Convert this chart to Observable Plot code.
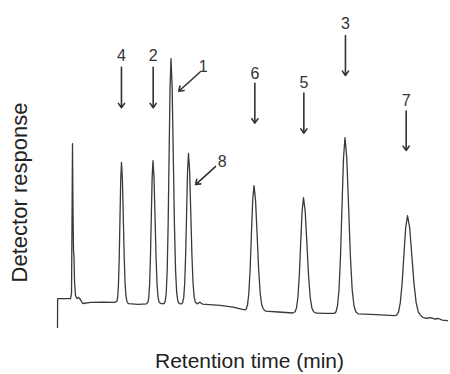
<!DOCTYPE html>
<html>
<head>
<meta charset="utf-8">
<script src="https://cdn.jsdelivr.net/npm/d3@7"></script>
<script src="https://cdn.jsdelivr.net/npm/@observablehq/plot@0.6"></script>
<style>
  html, body { margin: 0; padding: 0; background: #fff; }
  #chart { width: 450px; height: 374px; }
</style>
</head>
<body>
<div id="chart"></div>
<script>
// Chromatogram trace: retention time (min) and detector response (arbitrary units)
const traceTime = [
  0, 0.01, 1.0, 1.08, 1.154, 1.19, 1.23, 1.27, 1.31, 1.385, 1.5, 1.62, 1.75, 1.94, 2.55, 3.5, 4.4,
  4.577, 4.635, 4.692, 4.750, 4.808, 4.865, 4.923, 4.992, 5.062, 5.131, 5.200, 5.269, 5.338,
  5.45, 6.2, 6.85,
  6.954, 7.019, 7.085, 7.150, 7.215, 7.281, 7.346, 7.424, 7.503, 7.581, 7.660, 7.738, 7.817,
  7.95, 8.2,
  8.292, 8.365, 8.438, 8.512, 8.585, 8.658, 8.731, 8.819, 8.906, 8.994, 9.082, 9.169, 9.257,
  9.37, 9.55,
  9.638, 9.711, 9.784, 9.858, 9.931, 10.004, 10.077, 10.165, 10.252, 10.340, 10.428, 10.515, 10.603,
  10.75, 10.95, 11.15, 12.5, 13.5, 14.4,
  14.515, 14.615, 14.715, 14.815, 14.915, 15.015, 15.115, 15.235, 15.355, 15.475, 15.595, 15.715, 15.835,
  16.0, 17.0, 18.1,
  18.277, 18.385, 18.492, 18.600, 18.708, 18.815, 18.923, 19.052, 19.182, 19.311, 19.440, 19.569, 19.698,
  19.9, 20.6, 21.3,
  21.423, 21.538, 21.654, 21.769, 21.885, 22.000, 22.115, 22.254, 22.392, 22.531, 22.669, 22.808, 22.946,
  23.15, 24.5, 25.9,
  26.092, 26.231, 26.369, 26.508, 26.646, 26.785, 26.923, 27.089, 27.255, 27.422, 27.588, 27.754, 27.920,
  28.1, 28.4, 28.7, 29.0, 29.3, 29.6, 30.0
];
const traceResponse = [
  -10.2, 1.8, 1.8, 4, 66.4, 40, 22, 19, 9, 3.1, 1.8, 2.25, 1.5, -0.25, 0.2, 0.3, 0.2,
  0.7, 2.7, 8.0, 19.1, 35.6, 51.6, 58.5, 51.6, 35.6, 19.1, 8.0, 2.7, 0.7,
  -0.3, -0.6, -0.4,
  0.3, 2.2, 7.7, 19.0, 35.8, 52.3, 59.3, 52.3, 35.8, 19.0, 7.7, 2.2, 0.3,
  -0.3, -0.3,
  0.8, 4.2, 13.5, 32.9, 61.7, 89.8, 101.8, 89.8, 61.7, 32.9, 13.5, 4.2, 0.8,
  -0.3, -0.4,
  0.3, 2.4, 8.1, 20.0, 37.6, 54.9, 62.25, 54.9, 37.6, 20.0, 8.1, 2.4, 0.3,
  -0.4, 0.3, -0.5, -1.0, -1.8, -2.9,
  -2.6, -0.9, 3.8, 13.7, 28.4, 42.8, 48.9, 42.8, 28.4, 13.7, 3.8, -0.9, -2.6,
  -3.4, -3.8, -4.2,
  -3.7, -2.1, 2.25, 11.4, 25.0, 38.2, 43.9, 38.2, 25.0, 11.4, 2.25, -2.1, -3.7,
  -4.3, -4.4, -4.4,
  -3.7, -1.3, 5.4, 19.4, 40.1, 60.2, 68.9, 60.2, 40.1, 19.4, 5.4, -1.3, -3.7,
  -4.6, -4.9, -5.3,
  -5.1, -3.8, 0.1, 8.05, 19.9, 31.4, 36.4, 31.4, 19.9, 8.05, 0.1, -3.8, -5.1,
  -6.0, -6.4, -6.1, -6.7, -6.5, -7.2, -7.4
];

// Peak annotations (numbers with arrows)
const peakLabels    = ["4", "2", "1", "8", "6", "5", "3", "7"];
const labelTime     = [4.92, 7.36, 11.21, 12.67, 15.18, 18.95, 22.15, 26.82];
const labelResponse = [103.1, 103.1, 98.2, 58.6, 95.5, 91.5, 116.3, 84.3];
const arrowFromTime     = [4.92, 7.36, 10.95, 12.15, 15.18, 18.95, 22.15, 26.82];
const arrowFromResponse = [98.2, 98.2, 96.1, 56.8, 91.5, 87.4, 111.4, 79.9];
const arrowToTime       = [4.92, 7.36, 9.33, 10.62, 15.18, 18.95, 22.15, 26.82];
const arrowToResponse   = [81.3, 81.3, 88.2, 49.3, 74.9, 70.7, 94.75, 63.5];

const xLabel = "Retention time (min)";
const yLabel = "Detector response";

const trace = traceTime.map((t, i) => ({t, r: traceResponse[i]}));
const notes = peakLabels.map((label, i) => ({
  label,
  lt: labelTime[i], lr: labelResponse[i],
  x1: arrowFromTime[i], y1: arrowFromResponse[i],
  x2: arrowToTime[i], y2: arrowToResponse[i]
}));

const font = "Liberation Sans, Arial, Helvetica, sans-serif";
const ink = "#333";

const chart = Plot.plot({
  width: 450,
  height: 374,
  marginLeft: 57,
  marginRight: 3,
  marginTop: 0,
  marginBottom: 44,
  style: {background: "#fff", fontFamily: font},
  x: {axis: null, domain: [0, 30]},
  y: {axis: null, domain: [-11.5, 126]},
  marks: [
    Plot.line(trace, {x: "t", y: "r", stroke: "#3a3a3a", strokeWidth: 1.3, curve: "linear"}),
    Plot.arrow(notes, {x1: "x1", y1: "y1", x2: "x2", y2: "y2", stroke: ink, strokeWidth: 1.6, headLength: 5, headAngle: 70}),
    Plot.text(notes, {x: "lt", y: "lr", text: "label", fill: ink, fontSize: 16, fontFamily: font}),
    Plot.text([xLabel], {text: d => d, frameAnchor: "bottom", textAnchor: "middle", lineAnchor: "middle", dx: -3, dy: 31, fontSize: 21, fill: "#222", fontFamily: font, letterSpacing: 0.8}),
    Plot.text([yLabel], {text: d => d, frameAnchor: "left", textAnchor: "middle", lineAnchor: "middle", dx: -38, dy: 27, rotate: -90, fontSize: 22, fill: "#222", fontFamily: font, letterSpacing: 0.8})
  ]
});
document.getElementById("chart").appendChild(chart);
</script>
</body>
</html>
